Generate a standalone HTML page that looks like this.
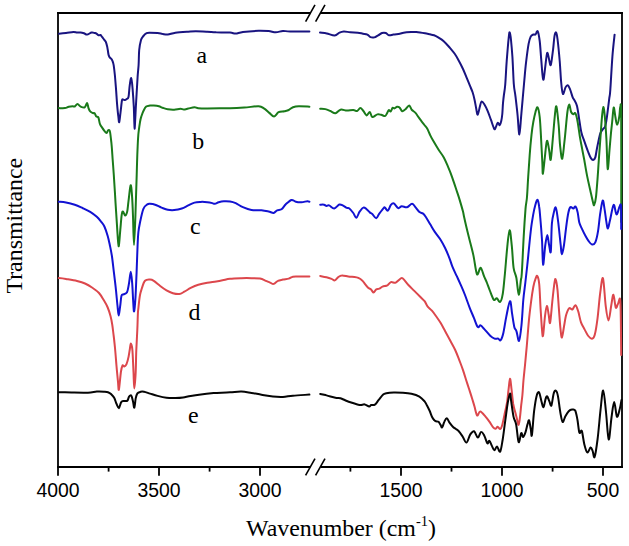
<!DOCTYPE html>
<html><head><meta charset="utf-8"><style>
html,body{margin:0;padding:0;background:#fff;}
body{width:629px;height:546px;overflow:hidden;}
svg{display:block;}
</style></head><body>
<svg width="629" height="546" viewBox="0 0 629 546">
<g stroke="#000" stroke-width="1.8" fill="none" stroke-linecap="butt">
<line x1="58" y1="12.1" x2="58" y2="467"/>
<line x1="622" y1="12.1" x2="622" y2="467.9"/>
<line x1="57.1" y1="13" x2="310.3" y2="13"/>
<line x1="320.5" y1="13" x2="622.9" y2="13"/>
<line x1="57.1" y1="467" x2="310.3" y2="467"/>
<line x1="320.5" y1="467" x2="622.9" y2="467"/>
<line x1="58" y1="467" x2="58" y2="475.8"/>
<line x1="159" y1="467" x2="159" y2="475.8"/>
<line x1="260" y1="467" x2="260" y2="475.8"/>
<line x1="401" y1="467" x2="401" y2="475.8"/>
<line x1="502" y1="467" x2="502" y2="475.8"/>
<line x1="603" y1="467" x2="603" y2="475.8"/>
<line x1="108.6" y1="467" x2="108.6" y2="471.6"/>
<line x1="209.6" y1="467" x2="209.6" y2="471.6"/>
<line x1="350.4" y1="467" x2="350.4" y2="471.6"/>
<line x1="451.5" y1="467" x2="451.5" y2="471.6"/>
<line x1="552.6" y1="467" x2="552.6" y2="471.6"/>
</g>
<g stroke="#000" stroke-width="1.6" fill="none">
<line x1="305.6" y1="21.6" x2="315" y2="4.8"/>
<line x1="315.6" y1="21.6" x2="325" y2="4.8"/>
<line x1="305.6" y1="475.4" x2="315" y2="458.6"/>
<line x1="315.6" y1="475.4" x2="325" y2="458.6"/>
</g>
<g fill="none" stroke-width="2.0" stroke-linejoin="round" stroke-linecap="round">
<path d="M59.0,33.7C60.2,33.6 63.6,33.3 66.0,33.0C68.4,32.7 71.5,32.0 73.3,31.9C75.1,31.8 75.8,32.4 77.0,32.5C78.2,32.6 79.4,32.4 80.6,32.5C81.8,32.6 82.9,32.9 84.0,33.2C85.1,33.6 85.7,34.7 87.0,34.6C88.3,34.5 90.3,32.8 91.6,32.5C92.9,32.2 94.1,32.9 95.0,33.1C95.9,33.3 96.2,33.5 96.8,33.9C97.4,34.3 98.1,35.1 98.7,35.3C99.3,35.5 99.9,34.7 100.5,35.0C101.1,35.3 101.6,36.4 102.3,37.2C103.0,38.1 103.9,39.2 104.5,40.1C105.1,41.0 105.6,41.3 106.0,42.3C106.4,43.3 106.8,45.0 107.1,46.3C107.4,47.6 107.5,48.5 107.8,50.0C108.0,51.5 108.3,53.9 108.6,55.1C108.9,56.3 109.2,56.6 109.7,57.3C110.2,58.0 111.2,58.6 111.8,59.5C112.3,60.4 112.7,61.4 113.0,62.4C113.3,63.4 113.4,63.4 113.7,65.4C114.0,67.4 114.4,70.6 114.8,74.5C115.2,78.4 115.6,83.8 116.0,88.8C116.4,93.8 116.7,99.7 117.1,104.3C117.5,108.9 117.9,113.2 118.3,116.2C118.7,119.2 118.8,122.7 119.2,122.1C119.6,121.5 120.0,116.2 120.5,112.6C121.0,109.0 121.5,102.9 121.9,100.7C122.3,98.5 122.6,99.6 123.1,99.5C123.6,99.4 124.3,100.2 124.9,100.1C125.5,100.0 126.1,99.4 126.7,98.9C127.3,98.4 128.0,99.2 128.5,97.1C129.0,95.0 129.2,89.6 129.6,86.4C130.0,83.2 130.7,77.7 131.2,78.1C131.7,78.5 132.2,84.0 132.6,88.8C133.0,93.6 133.5,100.8 133.8,106.7C134.1,112.7 134.2,121.1 134.4,124.5C134.6,127.9 134.5,130.9 134.8,126.9C135.1,122.9 135.7,109.0 136.2,100.7C136.7,92.4 137.2,82.9 137.6,76.9C138.0,71.0 138.3,69.5 138.6,65.0C138.9,60.5 138.8,54.2 139.2,50.0C139.6,45.8 140.4,42.2 141.0,40.0C141.6,37.8 142.1,37.6 143.0,36.5C143.9,35.4 145.4,33.8 146.6,33.2C147.8,32.6 148.2,32.7 150.0,32.7C151.8,32.7 155.6,32.9 157.6,33.1C159.6,33.3 160.3,33.5 162.0,33.8C163.7,34.0 165.6,34.8 167.8,34.6C170.0,34.4 172.0,33.2 175.4,32.7C178.8,32.2 184.8,31.9 188.2,31.7C191.6,31.4 192.6,31.2 195.8,31.2C199.0,31.2 203.8,31.5 207.2,31.7C210.6,31.9 212.4,32.1 216.2,32.3C220.0,32.4 226.8,32.4 230.0,32.6C233.2,32.8 233.5,33.7 235.7,33.6C237.8,33.5 239.1,32.4 242.9,31.9C246.7,31.4 254.3,30.9 258.6,30.8C262.9,30.7 265.7,30.9 268.6,31.1C271.5,31.4 273.4,32.3 275.8,32.3C278.2,32.3 280.5,31.0 282.9,30.9C285.3,30.8 285.7,31.5 290.1,31.6C294.5,31.7 306.2,31.4 309.4,31.4" stroke="#191480"/>
<path d="M320.0,32.6C321.1,32.8 324.4,33.0 326.8,33.5C329.2,34.0 332.6,35.6 334.7,35.5C336.8,35.4 338.0,33.4 339.5,32.7C341.0,32.0 342.0,31.6 343.8,31.5C345.6,31.4 347.9,32.1 350.2,32.3C352.5,32.5 355.7,32.5 357.8,32.7C359.9,32.9 361.3,33.4 362.9,33.7C364.5,34.0 366.1,34.0 367.4,34.6C368.7,35.2 369.3,36.7 370.5,37.2C371.7,37.7 373.1,37.7 374.4,37.4C375.7,37.1 376.9,36.0 378.2,35.3C379.5,34.6 380.7,33.4 382.0,33.0C383.3,32.6 384.6,32.6 385.8,33.0C387.0,33.4 387.7,35.0 389.0,35.3C390.3,35.6 391.6,34.9 393.4,34.6C395.2,34.3 398.1,34.0 399.8,33.7C401.5,33.4 401.7,33.0 403.6,32.7C405.5,32.4 409.1,32.2 411.2,32.1C413.3,32.0 414.8,32.0 416.3,32.1C417.8,32.2 418.6,32.3 420.0,32.5C421.4,32.7 423.3,33.0 425.0,33.3C426.7,33.6 428.5,34.0 430.0,34.3C431.5,34.6 432.7,34.8 434.1,35.3C435.5,35.8 436.6,36.4 438.2,37.4C439.8,38.4 441.9,39.6 443.7,41.2C445.5,42.8 447.4,44.9 449.2,47.0C451.0,49.1 453.1,51.5 454.7,53.8C456.3,56.1 457.4,58.2 458.8,60.7C460.2,63.2 461.7,66.2 463.0,69.0C464.3,71.8 465.3,74.5 466.4,77.2C467.5,79.9 468.8,82.9 469.8,85.4C470.8,87.9 471.8,89.9 472.6,92.3C473.4,94.7 474.0,97.2 474.6,100.0C475.2,102.8 475.8,106.5 476.3,109.0C476.8,111.5 477.1,115.1 477.7,114.7C478.3,114.3 479.3,108.7 479.9,106.5C480.5,104.3 480.8,101.9 481.5,101.5C482.2,101.1 483.3,102.7 484.3,104.3C485.3,105.9 486.5,108.3 487.6,110.9C488.7,113.5 489.9,117.0 490.9,119.7C491.9,122.5 492.9,125.9 493.6,127.4C494.3,129.0 494.3,129.8 495.0,129.0C495.7,128.2 496.9,123.5 497.7,122.9C498.5,122.3 499.1,125.6 499.7,125.2C500.3,124.8 500.9,122.7 501.3,120.8C501.7,118.9 502.0,116.9 502.3,114.0C502.6,111.1 502.7,106.4 503.0,103.2C503.3,100.0 503.5,98.0 503.9,95.0C504.3,92.0 504.7,90.6 505.2,85.0C505.7,79.4 506.1,69.0 506.7,61.2C507.3,53.4 508.2,42.7 508.7,37.9C509.2,33.1 509.3,32.0 509.7,32.4C510.1,32.8 510.6,36.0 511.0,40.0C511.4,44.0 511.9,49.3 512.4,56.6C512.9,63.9 513.3,77.3 513.8,84.0C514.3,90.7 514.9,91.3 515.5,96.6C516.1,101.8 517.0,109.2 517.6,115.5C518.2,121.8 518.8,134.8 519.4,134.5C520.0,134.2 520.6,121.8 521.4,113.4C522.2,105.0 523.2,92.4 524.0,84.0C524.8,75.6 525.2,69.6 526.0,62.9C526.8,56.2 527.8,48.3 528.6,43.9C529.4,39.5 529.9,38.2 530.7,36.6C531.5,35.0 532.6,34.9 533.4,34.5C534.2,34.1 534.8,35.0 535.5,34.5C536.2,34.0 537.0,30.2 537.7,31.3C538.4,32.4 539.1,36.4 539.7,41.0C540.3,45.6 540.7,53.6 541.2,59.2C541.7,64.8 542.1,71.4 542.5,74.8C542.9,78.2 543.2,80.6 543.6,79.5C544.0,78.4 544.6,71.9 545.1,68.1C545.6,64.3 546.1,59.1 546.5,56.6C546.9,54.1 547.1,52.3 547.6,53.0C548.1,53.7 548.9,59.0 549.4,61.0C549.9,63.0 550.3,66.7 550.9,64.7C551.5,62.8 552.5,54.1 553.1,49.3C553.7,44.5 554.0,38.9 554.5,36.1C555.0,33.3 555.5,32.0 556.0,32.5C556.5,33.0 556.9,34.2 557.5,39.0C558.1,43.8 559.1,53.9 559.7,61.0C560.3,68.1 560.6,76.0 561.1,81.5C561.6,87.0 562.2,93.0 562.9,94.0C563.6,95.0 564.7,88.9 565.5,87.4C566.3,85.9 567.0,85.0 567.7,85.2C568.4,85.5 569.0,86.8 569.9,88.9C570.8,91.0 572.1,95.9 572.8,97.7C573.5,99.5 573.6,98.6 574.3,100.0C575.0,101.4 576.2,102.9 577.0,106.1C577.8,109.3 578.5,114.9 579.2,119.3C579.9,123.7 580.5,128.8 581.4,132.5C582.2,136.2 583.2,138.0 584.3,141.2C585.4,144.4 586.9,148.7 588.0,151.5C589.1,154.3 590.0,156.7 590.9,158.1C591.8,159.5 592.4,160.1 593.1,160.0C593.8,159.9 594.6,159.8 595.3,157.4C596.0,155.0 596.6,149.6 597.5,145.6C598.4,141.6 599.4,136.0 600.4,133.2C601.4,130.4 602.5,130.0 603.3,128.8C604.1,127.6 604.7,128.0 605.3,125.9C605.9,123.8 606.4,120.9 607.0,116.4C607.6,111.9 608.7,103.2 609.2,98.8C609.8,94.4 609.8,97.0 610.3,90.0C610.8,83.0 611.7,65.8 612.4,56.6C613.1,47.4 614.2,38.4 614.6,34.7" stroke="#191480"/>
<path d="M58.8,108.1C59.8,108.1 63.3,108.3 64.9,108.1C66.6,107.9 67.4,107.0 68.7,106.7C70.0,106.4 71.6,106.3 72.6,106.3C73.6,106.3 74.0,106.9 74.8,106.5C75.6,106.1 76.5,104.1 77.5,104.1C78.5,104.1 79.6,106.2 80.8,106.7C82.0,107.2 83.7,108.0 84.7,107.4C85.8,106.8 86.5,102.9 87.1,103.0C87.7,103.1 88.0,106.7 88.5,108.1C89.0,109.5 89.5,110.6 90.2,111.4C90.9,112.2 92.2,112.8 92.9,113.1C93.6,113.4 94.0,112.5 94.6,113.1C95.1,113.6 95.6,115.7 96.2,116.4C96.8,117.1 97.8,116.2 98.4,117.5C99.0,118.8 99.3,122.5 100.0,124.2C100.7,125.9 101.6,126.8 102.3,127.9C103.0,129.0 103.7,130.0 104.4,130.8C105.1,131.7 106.0,133.1 106.6,133.0C107.2,132.9 107.6,130.4 108.2,130.2C108.8,130.0 109.5,129.6 110.0,131.9C110.5,134.2 111.0,139.3 111.5,144.0C112.0,148.7 112.3,154.8 112.7,160.0C113.1,165.2 113.3,167.9 113.8,175.0C114.3,182.1 115.0,193.7 115.5,202.4C116.0,211.1 116.6,219.8 117.1,227.1C117.6,234.4 118.1,245.8 118.6,246.3C119.1,246.8 119.8,235.2 120.3,229.9C120.8,224.7 121.2,217.9 121.7,214.8C122.2,211.7 122.4,211.3 123.0,211.4C123.6,211.5 124.4,215.4 125.1,215.5C125.8,215.6 126.5,214.4 127.1,212.0C127.7,209.6 127.9,205.5 128.5,201.1C129.1,196.7 130.0,186.2 130.6,185.3C131.2,184.4 131.6,190.4 132.0,195.6C132.4,200.8 132.7,208.0 133.0,216.2C133.3,224.4 133.6,245.0 134.0,245.0C134.4,245.0 135.0,227.9 135.4,216.2C135.8,204.5 136.3,186.0 136.7,175.0C137.0,164.0 137.2,156.7 137.5,150.0C137.8,143.3 137.9,139.8 138.3,135.0C138.7,130.2 139.6,124.7 140.1,121.5C140.6,118.3 140.9,117.8 141.5,116.0C142.1,114.2 142.6,112.6 143.4,111.0C144.2,109.4 145.1,107.5 146.2,106.6C147.3,105.7 148.7,105.8 150.0,105.6C151.3,105.4 152.3,105.4 153.8,105.5C155.3,105.6 157.4,105.8 158.9,106.2C160.4,106.6 161.2,107.3 162.7,107.8C164.2,108.3 165.9,109.0 167.8,109.3C169.7,109.6 172.1,109.8 174.2,109.7C176.3,109.6 178.9,108.8 180.5,108.8C182.1,108.8 182.4,109.5 183.7,109.5C185.0,109.5 186.4,109.0 188.2,108.6C190.0,108.2 192.8,107.3 194.5,107.2C196.2,107.1 196.2,108.0 198.3,108.2C200.4,108.4 202.0,108.4 207.3,108.4C212.6,108.4 223.8,108.3 230.0,108.2C236.2,108.1 239.5,107.9 244.3,107.6C249.1,107.3 255.3,106.0 258.6,106.2C261.9,106.4 262.5,107.5 264.3,108.6C266.1,109.7 267.7,111.6 269.3,112.9C270.9,114.2 272.6,116.6 274.1,116.5C275.7,116.4 276.9,113.1 278.6,112.2C280.3,111.3 282.7,111.6 284.4,111.2C286.1,110.8 287.3,110.7 288.7,110.0C290.1,109.3 291.3,107.8 293.0,107.2C294.7,106.6 296.0,106.3 298.7,106.2C301.4,106.1 307.6,106.6 309.4,106.7" stroke="#1a7a1a"/>
<path d="M320.2,108.7C321.1,108.8 323.6,108.7 325.3,109.1C327.0,109.5 328.7,110.3 330.4,111.0C332.1,111.7 333.7,113.5 335.4,113.3C337.1,113.1 338.6,110.2 340.5,109.7C342.4,109.2 344.8,110.5 346.9,110.6C349.0,110.6 351.6,109.9 353.3,110.0C355.0,110.1 355.9,111.3 357.1,111.0C358.3,110.7 359.2,108.1 360.3,108.1C361.4,108.1 362.3,109.8 363.4,111.0C364.4,112.2 365.5,115.2 366.6,115.4C367.7,115.6 368.9,111.6 369.8,111.9C370.8,112.2 371.0,116.6 372.3,117.0C373.6,117.4 375.9,114.8 377.4,114.4C378.9,114.0 379.9,114.5 381.2,114.8C382.5,115.1 384.1,116.3 385.0,116.1C385.9,115.9 386.3,114.5 386.9,113.5C387.5,112.5 388.2,110.4 388.8,110.1C389.4,109.8 390.1,111.8 390.7,111.4C391.3,111.0 392.0,108.3 392.6,107.8C393.2,107.3 393.8,108.6 394.5,108.4C395.2,108.2 396.2,106.9 397.1,106.8C398.0,106.7 398.8,106.9 399.6,107.6C400.5,108.3 401.2,110.9 402.2,111.2C403.2,111.5 404.2,110.2 405.4,109.3C406.6,108.3 408.1,105.4 409.2,105.5C410.2,105.6 410.6,108.5 411.7,109.7C412.8,110.9 414.3,111.6 415.5,112.9C416.7,114.2 417.6,115.9 418.7,117.4C419.8,118.9 420.9,120.5 421.9,121.8C422.8,123.1 423.5,123.8 424.4,125.0C425.3,126.2 426.4,127.2 427.3,128.8C428.2,130.4 429.1,132.8 430.0,134.7C430.9,136.6 431.4,137.7 432.8,140.1C434.2,142.5 436.5,146.4 438.3,149.3C440.1,152.2 442.1,154.4 443.8,157.5C445.5,160.6 447.0,164.4 448.4,167.6C449.8,170.8 450.8,173.4 452.0,176.8C453.2,180.2 454.4,184.0 455.7,187.8C456.9,191.6 458.3,195.4 459.5,199.4C460.7,203.4 462.2,208.4 463.0,211.6C463.8,214.8 463.4,214.1 464.4,218.3C465.3,222.5 467.2,230.5 468.7,236.6C470.2,242.7 471.9,248.6 473.3,254.9C474.7,261.2 475.8,272.1 477.0,274.2C478.2,276.3 479.4,267.4 480.6,267.8C481.8,268.2 483.2,274.4 484.3,276.9C485.4,279.4 486.1,280.6 487.0,283.0C487.9,285.4 488.9,288.2 490.0,291.0C491.1,293.8 492.7,298.6 493.8,299.8C494.9,301.0 495.8,297.9 496.8,298.3C497.9,298.7 499.1,302.6 500.1,302.0C501.1,301.4 501.9,298.9 502.6,294.7C503.4,290.5 503.8,284.9 504.6,277.0C505.4,269.1 506.4,255.4 507.2,247.6C508.0,239.8 508.8,230.5 509.6,230.2C510.4,229.9 511.1,239.5 511.8,245.8C512.5,252.1 512.8,262.4 513.6,267.8C514.4,273.2 515.5,273.5 516.4,278.0C517.2,282.5 518.0,294.4 518.7,294.7C519.5,295.0 520.4,283.6 520.9,280.0C521.4,276.4 521.3,280.5 521.8,273.3C522.3,266.1 523.1,247.3 523.7,236.6C524.3,225.9 525.0,215.6 525.5,209.2C526.0,202.8 526.4,203.4 526.9,198.0C527.4,192.6 527.7,184.1 528.2,176.9C528.7,169.7 529.2,161.9 529.7,154.9C530.2,147.9 530.9,140.3 531.5,134.8C532.1,129.3 532.6,125.8 533.3,122.0C534.0,118.2 534.8,114.4 535.5,111.9C536.2,109.5 536.9,106.5 537.6,107.3C538.3,108.1 539.1,111.7 539.7,117.0C540.3,122.3 540.7,131.4 541.1,138.9C541.5,146.4 542.0,156.2 542.3,162.0C542.6,167.8 542.5,174.5 542.9,173.8C543.3,173.1 544.2,162.8 544.8,158.0C545.3,153.2 545.8,147.6 546.2,144.8C546.6,142.0 546.9,140.1 547.4,141.1C547.9,142.1 548.7,147.5 549.2,150.6C549.8,153.7 550.1,161.5 550.7,159.6C551.3,157.7 552.1,146.5 552.8,138.9C553.5,131.3 554.4,119.4 555.0,114.0C555.6,108.6 555.9,104.8 556.5,106.7C557.1,108.6 558.1,119.0 558.7,125.5C559.3,132.0 559.5,140.0 560.1,145.6C560.7,151.2 561.5,159.5 562.2,158.8C562.9,158.1 563.6,149.0 564.5,141.2C565.4,133.4 566.6,118.1 567.4,112.0C568.2,105.9 568.7,104.6 569.3,104.6C569.9,104.6 570.4,110.4 571.1,112.0C571.8,113.6 572.6,114.0 573.3,114.2C574.0,114.4 574.8,112.1 575.5,113.4C576.2,114.7 577.0,118.3 577.7,122.2C578.4,126.1 579.2,132.5 579.9,136.9C580.6,141.3 581.4,144.8 582.1,148.6C582.8,152.4 583.4,155.4 584.3,160.0C585.1,164.6 586.2,171.5 587.2,176.4C588.2,181.3 589.1,185.1 590.1,189.5C591.1,193.9 592.4,200.1 593.1,202.7C593.8,205.3 593.7,205.9 594.2,204.9C594.7,203.9 595.5,201.2 596.0,196.9C596.5,192.6 597.0,185.7 597.5,179.3C598.0,173.0 598.4,165.6 598.9,158.8C599.4,152.0 599.9,145.1 600.4,138.3C600.9,131.5 601.4,123.0 601.9,117.8C602.4,112.6 602.8,107.2 603.3,107.0C603.8,106.8 604.3,111.1 604.8,116.4C605.3,121.7 605.9,130.2 606.4,139.0C606.9,147.8 607.2,167.2 607.7,169.0C608.2,170.8 609.0,155.7 609.5,150.0C610.0,144.3 610.4,139.6 610.8,135.0C611.2,130.4 611.6,127.1 612.1,122.5C612.6,117.9 613.2,108.5 613.7,107.6C614.2,106.7 614.9,114.2 615.4,117.0C615.9,119.8 616.4,124.7 617.0,124.7C617.6,124.7 618.7,120.1 619.2,117.0C619.8,113.9 620.0,106.0 620.3,106.0C620.6,106.0 621.1,97.7 621.2,117.0C621.4,136.3 621.2,204.5 621.2,222.0" stroke="#1a7a1a"/>
<path d="M58.8,201.8C60.0,201.9 63.3,202.0 66.0,202.5C68.7,203.0 72.0,203.8 74.8,204.7C77.5,205.6 79.9,206.8 82.5,208.0C85.1,209.2 87.8,210.4 90.2,211.9C92.6,213.4 95.0,215.2 96.8,216.8C98.6,218.5 99.9,220.2 101.2,221.8C102.5,223.4 103.3,224.1 104.4,226.5C105.5,228.9 106.8,232.9 107.7,236.0C108.6,239.1 109.1,241.7 109.8,245.0C110.5,248.3 111.2,251.4 111.9,256.0C112.6,260.6 113.2,266.7 113.9,272.4C114.6,278.1 115.4,284.6 116.0,290.3C116.6,296.0 117.1,302.5 117.6,306.7C118.0,310.9 118.3,315.6 118.7,315.6C119.1,315.6 119.6,310.0 120.1,306.7C120.6,303.4 120.9,297.9 121.5,295.8C122.1,293.8 122.6,295.0 123.5,294.4C124.4,293.8 126.1,294.1 127.0,292.3C127.9,290.5 128.4,286.8 129.0,283.4C129.6,280.0 130.3,271.7 130.8,271.7C131.3,271.7 131.8,278.7 132.2,283.4C132.6,288.1 132.8,295.2 133.1,299.9C133.4,304.6 133.7,312.0 134.1,311.5C134.5,311.0 135.1,303.6 135.5,297.1C135.9,290.6 136.2,281.1 136.6,272.4C136.9,263.7 137.3,251.7 137.6,245.0C137.9,238.3 138.0,235.8 138.4,232.0C138.8,228.2 139.3,225.9 140.1,222.0C140.9,218.1 142.2,211.7 143.4,208.8C144.6,205.9 146.2,205.2 147.3,204.4C148.4,203.6 148.7,203.8 150.0,203.8C151.3,203.9 153.2,204.1 155.1,204.7C157.0,205.3 159.4,206.8 161.5,207.6C163.6,208.4 165.7,209.4 167.8,209.8C169.9,210.2 171.9,210.3 174.2,210.1C176.5,209.9 179.5,209.3 181.8,208.5C184.1,207.7 186.1,206.4 188.2,205.4C190.3,204.4 192.4,203.2 194.5,202.6C196.6,202.0 198.8,202.0 200.9,201.9C203.0,201.8 205.4,202.0 207.3,202.2C209.2,202.4 211.0,202.8 212.3,203.1C213.6,203.4 213.8,204.0 214.9,203.8C216.0,203.7 217.2,202.6 218.7,202.2C220.2,201.8 221.9,201.4 223.8,201.3C225.7,201.2 228.0,201.2 230.0,201.5C232.0,201.8 233.5,202.2 235.7,203.2C237.8,204.1 240.3,206.1 242.9,207.2C245.5,208.3 248.4,209.5 251.5,210.0C254.6,210.5 258.6,210.1 261.5,210.3C264.4,210.6 266.6,211.1 268.6,211.5C270.6,211.9 272.2,213.1 273.6,212.9C275.0,212.7 275.9,210.9 277.2,210.3C278.5,209.7 280.1,210.3 281.5,209.3C282.9,208.3 284.1,205.9 285.8,204.3C287.5,202.8 289.8,200.4 291.5,200.0C293.2,199.6 294.1,201.3 295.8,201.7C297.5,202.1 299.6,202.3 301.5,202.2C303.4,202.1 306.0,201.3 307.3,201.2C308.6,201.1 309.0,201.6 309.4,201.7" stroke="#1212d2"/>
<path d="M320.2,204.7C320.8,204.7 322.9,204.5 324.0,204.7C325.1,204.9 325.6,205.9 326.5,206.0C327.4,206.1 327.8,205.0 329.1,205.4C330.4,205.8 332.5,208.7 334.2,208.5C335.9,208.3 337.8,205.0 339.3,204.5C340.8,204.0 341.8,205.0 343.1,205.6C344.4,206.2 345.8,207.4 346.9,207.9C347.9,208.4 348.3,207.7 349.4,208.5C350.5,209.3 352.1,211.4 353.3,213.0C354.5,214.6 355.3,218.0 356.4,217.8C357.4,217.6 358.4,213.4 359.6,211.7C360.8,210.0 362.2,208.0 363.4,207.6C364.6,207.2 365.5,208.4 366.6,209.2C367.7,210.0 368.9,211.6 369.8,212.4C370.8,213.2 371.2,213.0 372.3,214.0C373.4,215.0 375.0,218.4 376.2,218.3C377.4,218.2 378.0,215.3 379.3,213.6C380.6,211.9 382.9,208.9 383.8,207.9C384.8,206.9 384.3,207.2 385.0,207.7C385.7,208.1 386.9,211.1 387.9,210.6C388.9,210.1 389.9,206.0 390.9,204.8C391.9,203.6 392.6,202.8 393.8,203.3C395.0,203.9 396.9,207.6 398.2,208.1C399.5,208.6 400.3,206.3 401.8,206.2C403.3,206.1 405.3,207.7 407.0,207.3C408.7,206.9 410.6,203.7 412.1,203.8C413.6,203.9 414.6,206.3 415.8,207.7C417.0,209.1 418.2,211.1 419.4,212.1C420.6,213.1 422.0,212.8 423.1,213.6C424.2,214.4 424.8,215.4 426.0,217.2C427.2,219.0 428.9,222.1 430.4,224.6C431.9,227.1 433.1,229.3 434.8,231.9C436.5,234.5 439.0,237.3 440.7,240.0C442.4,242.7 443.6,244.9 445.1,248.0C446.6,251.1 448.3,255.2 449.5,258.3C450.7,261.4 451.2,263.7 452.4,266.7C453.6,269.7 455.3,273.0 456.8,276.2C458.3,279.4 459.8,282.7 461.2,285.8C462.6,288.9 463.6,291.3 465.0,295.0C466.4,298.7 468.2,303.9 469.7,307.8C471.2,311.7 472.7,314.9 474.0,318.1C475.3,321.3 476.6,325.7 477.7,326.9C478.8,328.1 479.5,325.0 480.6,325.4C481.7,325.8 482.7,327.4 484.3,329.1C485.9,330.8 488.5,334.1 490.2,335.7C491.9,337.3 493.3,338.1 494.6,338.6C495.9,339.1 497.2,338.4 498.2,338.6C499.2,338.9 499.8,341.1 500.7,340.1C501.6,339.1 502.5,336.6 503.4,332.7C504.3,328.8 505.2,321.9 506.3,316.6C507.4,311.4 509.0,301.7 510.0,301.2C511.0,300.7 511.4,309.4 512.1,313.7C512.8,318.0 513.6,324.0 514.3,326.9C515.0,329.8 515.7,329.0 516.5,331.3C517.3,333.6 518.2,341.9 519.0,340.8C519.8,339.8 520.8,331.8 521.5,325.0C522.2,318.2 522.7,307.0 523.3,300.0C523.9,293.0 524.6,288.8 525.3,283.0C526.0,277.2 526.6,271.3 527.3,265.0C528.0,258.7 528.7,251.0 529.3,245.0C529.9,239.0 530.4,234.1 531.0,229.0C531.6,223.9 532.5,218.7 533.2,214.7C533.9,210.7 534.7,207.3 535.4,204.8C536.1,202.3 537.0,199.4 537.6,199.8C538.2,200.2 538.8,204.0 539.2,207.0C539.7,210.0 539.8,212.5 540.3,218.0C540.8,223.5 541.5,232.2 542.0,240.0C542.5,247.8 542.6,263.9 543.1,264.7C543.6,265.5 544.6,249.9 545.3,245.0C546.0,240.1 546.7,235.0 547.3,235.0C547.9,235.0 548.5,242.2 549.1,245.0C549.7,247.8 550.3,255.1 550.8,251.5C551.3,247.9 551.3,230.2 551.9,223.5C552.5,216.8 553.5,214.1 554.1,211.4C554.7,208.7 555.2,206.8 555.7,207.5C556.2,208.2 556.9,212.2 557.4,215.8C557.9,219.4 558.5,224.1 559.0,229.0C559.5,233.9 560.2,240.8 560.7,245.0C561.2,249.2 561.2,254.2 561.8,254.2C562.3,254.2 563.3,249.6 564.0,245.0C564.7,240.4 565.5,232.2 566.2,226.8C566.9,221.4 567.7,215.8 568.4,212.5C569.1,209.2 569.7,207.7 570.5,207.0C571.3,206.3 572.5,208.7 573.3,208.6C574.1,208.5 574.8,205.8 575.5,206.5C576.2,207.2 577.1,209.9 577.7,212.6C578.3,215.3 578.6,219.8 579.3,222.5C580.0,225.2 581.1,226.9 582.1,229.1C583.1,231.3 584.3,233.7 585.4,235.7C586.5,237.7 587.6,239.7 588.7,241.2C589.8,242.7 590.9,244.3 592.0,244.5C593.1,244.7 594.3,244.5 595.3,242.3C596.3,240.1 597.2,236.1 598.0,231.3C598.8,226.5 599.4,218.8 600.2,213.7C601.0,208.6 602.0,201.2 602.7,200.5C603.4,199.8 604.0,205.8 604.6,209.3C605.2,212.8 605.8,218.2 606.3,221.4C606.8,224.6 607.3,228.7 607.9,228.5C608.5,228.3 609.0,224.2 610.0,220.3C611.0,216.4 612.5,205.9 613.6,204.9C614.7,203.9 615.5,214.0 616.5,214.4C617.5,214.8 618.6,208.5 619.4,207.1C620.1,205.7 620.7,202.3 621.0,206.0C621.3,209.7 621.2,225.2 621.2,229.0" stroke="#1212d2"/>
<path d="M58.8,278.1C60.0,278.2 63.0,278.5 66.0,279.0C69.0,279.5 73.8,280.2 77.0,281.0C80.2,281.8 82.5,282.4 85.0,283.5C87.5,284.6 89.7,285.9 92.0,287.5C94.3,289.1 97.0,290.8 99.0,293.0C101.0,295.2 102.5,298.1 104.0,300.5C105.5,302.9 106.6,304.9 107.7,307.5C108.8,310.1 109.7,313.1 110.5,316.0C111.3,318.9 111.8,321.7 112.3,325.0C112.8,328.3 113.2,332.2 113.7,336.0C114.2,339.8 114.5,343.0 115.0,348.0C115.5,353.0 116.0,360.3 116.5,366.0C117.0,371.7 117.6,378.1 118.0,382.0C118.4,385.9 118.4,391.3 118.9,389.6C119.4,387.9 120.3,376.0 120.9,372.0C121.5,368.0 122.0,366.3 122.5,365.4C123.0,364.5 123.5,366.7 124.2,366.5C124.9,366.3 125.7,365.9 126.4,364.3C127.1,362.7 128.1,359.0 128.6,356.6C129.1,354.2 129.3,352.2 129.7,350.0C130.1,347.8 130.4,343.4 130.8,343.4C131.2,343.4 132.0,345.2 132.4,350.0C132.8,354.8 133.2,365.6 133.5,372.0C133.8,378.4 133.9,388.5 134.3,388.5C134.7,388.5 135.4,378.4 135.7,372.0C136.0,365.6 136.0,357.0 136.3,350.0C136.6,343.0 137.0,336.1 137.3,330.0C137.6,323.9 137.7,317.0 137.9,313.2C138.1,309.4 138.2,310.1 138.5,307.1C138.8,304.1 139.4,298.1 140.0,295.0C140.6,291.9 141.0,290.9 141.8,288.5C142.6,286.1 143.6,282.3 145.0,280.8C146.4,279.3 148.5,279.6 150.0,279.6C151.5,279.6 152.1,279.8 153.8,280.9C155.5,282.0 158.1,284.4 160.2,286.0C162.3,287.6 164.4,289.2 166.5,290.4C168.6,291.6 170.8,292.6 172.9,293.2C175.0,293.8 177.4,294.2 179.3,294.0C181.2,293.8 182.5,292.7 184.4,291.7C186.3,290.7 188.4,289.1 190.7,287.9C193.0,286.7 195.5,285.5 198.3,284.7C201.1,283.9 204.3,283.3 207.3,282.8C210.3,282.3 213.7,281.9 216.2,281.5C218.7,281.1 220.2,280.8 222.5,280.3C224.8,279.9 226.8,279.2 230.0,278.8C233.2,278.4 237.8,278.3 241.4,278.2C245.0,278.1 248.4,278.1 251.5,278.2C254.6,278.3 257.6,278.2 260.0,278.6C262.4,279.0 264.1,280.1 265.8,280.8C267.5,281.5 268.8,282.1 270.1,282.6C271.4,283.1 272.3,284.2 273.6,283.9C274.9,283.6 276.3,281.5 277.9,280.8C279.4,280.1 281.1,280.0 282.9,279.6C284.7,279.2 287.0,279.1 288.7,278.6C290.4,278.1 291.2,277.1 292.9,276.7C294.6,276.3 295.9,276.5 298.7,276.5C301.4,276.5 307.6,276.5 309.4,276.5" stroke="#dc474c"/>
<path d="M320.2,276.0C321.2,276.2 324.6,276.8 326.5,277.3C328.4,277.8 330.2,278.4 331.6,278.9C333.0,279.4 333.7,280.7 334.8,280.4C335.9,280.1 336.8,278.1 338.0,277.3C339.2,276.5 340.1,275.5 341.8,275.4C343.5,275.2 346.1,276.1 348.2,276.4C350.3,276.7 352.8,276.8 354.5,277.0C356.2,277.2 357.0,277.3 358.3,277.9C359.6,278.5 361.1,279.4 362.2,280.4C363.3,281.3 363.8,282.4 364.7,283.6C365.6,284.8 366.8,286.4 367.9,287.4C369.0,288.4 370.2,288.8 371.1,289.6C372.1,290.5 372.8,292.5 373.6,292.5C374.5,292.5 375.2,290.0 376.2,289.4C377.1,288.8 378.2,289.2 379.3,288.7C380.4,288.2 381.3,287.1 382.5,286.6C383.7,286.1 385.4,286.1 386.3,285.8C387.2,285.5 387.1,285.6 387.9,285.0C388.7,284.4 389.7,282.5 390.9,282.1C392.1,281.7 394.1,283.1 395.3,282.8C396.5,282.6 397.1,281.4 398.2,280.6C399.3,279.8 400.7,278.1 401.8,278.1C402.9,278.1 403.7,279.5 404.8,280.6C405.9,281.8 406.8,283.3 408.4,285.0C410.0,286.7 412.3,288.9 414.3,290.9C416.3,292.9 418.5,295.1 420.2,296.8C421.9,298.5 423.4,299.6 424.6,301.2C425.8,302.8 426.3,304.7 427.5,306.3C428.7,307.9 430.4,309.0 431.9,310.7C433.4,312.4 434.8,314.4 436.3,316.5C437.8,318.6 439.2,320.6 440.7,323.1C442.2,325.6 443.7,328.6 445.3,331.5C446.9,334.4 448.6,337.4 450.2,340.5C451.8,343.6 453.7,346.7 455.2,350.0C456.7,353.3 458.0,356.8 459.3,360.1C460.6,363.5 461.9,366.8 463.0,370.1C464.1,373.5 465.2,377.1 466.2,380.2C467.2,383.3 467.9,385.4 468.9,388.5C469.9,391.6 471.2,395.5 472.1,398.5C473.0,401.5 473.7,403.7 474.5,406.5C475.3,409.3 476.2,414.6 477.1,415.5C478.1,416.4 478.8,411.4 480.2,411.6C481.6,411.8 484.0,414.9 485.5,416.6C487.0,418.3 488.1,419.9 489.4,421.7C490.7,423.5 492.1,426.2 493.2,427.4C494.2,428.6 495.0,428.8 495.7,428.7C496.4,428.6 496.9,426.7 497.6,426.8C498.4,426.9 499.4,429.3 500.2,429.1C500.9,428.9 501.4,428.0 502.1,425.5C502.8,423.0 503.8,418.1 504.6,414.1C505.5,410.1 506.6,405.4 507.2,401.4C507.8,397.4 508.0,393.8 508.5,390.0C509.0,386.2 509.5,379.0 510.0,378.8C510.5,378.6 511.0,384.8 511.5,389.0C512.0,393.2 512.6,400.0 513.2,404.0C513.9,408.0 514.7,410.1 515.4,412.8C516.1,415.5 516.8,418.4 517.3,420.4C517.8,422.4 518.2,425.3 518.6,424.9C519.0,424.5 519.5,421.2 519.9,417.9C520.3,414.6 520.8,409.0 521.2,405.2C521.6,401.4 522.0,399.2 522.4,395.0C522.8,390.8 523.0,385.5 523.5,380.0C524.0,374.5 524.8,367.7 525.3,362.0C525.8,356.3 526.2,352.8 526.8,345.9C527.4,339.0 528.2,328.0 528.9,320.6C529.6,313.2 530.4,307.2 531.1,301.6C531.8,296.0 532.6,290.8 533.3,287.0C534.0,283.2 534.8,280.7 535.5,278.9C536.2,277.1 536.7,275.1 537.3,276.0C537.9,276.9 538.7,278.5 539.2,284.0C539.8,289.5 540.1,301.1 540.6,308.9C541.1,316.7 541.7,326.5 542.1,330.9C542.5,335.3 542.6,337.8 543.1,335.3C543.6,332.9 544.4,321.1 545.0,316.2C545.6,311.3 546.3,306.2 546.9,306.0C547.5,305.8 548.2,312.0 548.7,314.8C549.2,317.6 549.5,325.0 550.1,322.8C550.7,320.6 551.6,308.3 552.3,301.6C553.0,294.9 553.9,286.3 554.5,282.6C555.1,278.9 555.2,278.4 555.7,279.6C556.2,280.8 557.0,285.0 557.5,289.9C558.0,294.8 558.4,302.5 558.9,308.9C559.4,315.2 559.9,323.2 560.4,328.0C560.9,332.8 561.3,337.8 561.9,337.5C562.5,337.2 563.3,330.3 564.0,326.5C564.7,322.7 565.3,317.9 566.2,314.8C567.1,311.8 568.2,309.1 569.2,308.2C570.2,307.3 571.3,310.0 572.3,309.5C573.3,309.0 574.4,305.0 575.4,305.3C576.4,305.6 577.3,308.5 578.2,311.3C579.1,314.1 579.9,319.2 581.0,322.3C582.1,325.4 583.5,327.3 584.7,329.6C585.9,331.9 587.1,334.5 588.3,336.0C589.5,337.5 590.9,338.9 592.0,338.8C593.1,338.7 593.8,338.5 594.7,335.1C595.6,331.7 596.6,325.6 597.5,318.6C598.4,311.6 599.3,299.7 600.2,293.0C601.1,286.3 602.1,276.2 603.0,278.3C603.9,280.4 604.8,298.8 605.7,305.8C606.6,312.8 607.6,320.4 608.5,320.4C609.4,320.4 610.4,310.1 611.2,305.8C612.0,301.5 612.6,294.5 613.4,294.8C614.2,295.1 615.0,306.1 615.8,307.6C616.6,309.1 617.2,304.8 618.0,303.9C618.8,303.0 619.9,293.6 620.4,302.1C620.9,310.6 621.1,346.2 621.2,355.0" stroke="#dc474c"/>
<path d="M58.8,392.2C60.9,392.2 66.6,392.4 71.5,392.5C76.4,392.6 83.8,392.8 88.0,392.7C92.2,392.6 94.0,391.8 96.8,391.6C99.5,391.4 102.6,391.6 104.5,391.7C106.4,391.8 106.9,391.8 108.0,392.2C109.1,392.6 110.0,393.0 111.0,394.0C112.0,395.0 113.4,396.4 114.3,398.0C115.2,399.6 115.7,402.1 116.5,403.8C117.3,405.5 118.2,408.4 118.9,408.2C119.6,408.0 120.3,403.9 120.9,402.7C121.5,401.5 121.8,401.4 122.5,401.1C123.2,400.8 124.5,401.2 125.3,401.1C126.1,401.0 126.9,401.2 127.5,400.5C128.1,399.8 128.5,397.5 129.1,396.7C129.7,395.9 130.7,394.8 131.3,395.6C132.0,396.4 132.5,399.6 133.0,401.6C133.5,403.6 133.9,408.2 134.3,407.7C134.8,407.2 135.2,400.8 135.7,398.4C136.2,396.0 136.6,394.5 137.4,393.4C138.2,392.3 139.6,392.1 140.7,391.8C141.8,391.5 142.4,391.5 144.0,391.8C145.6,392.1 147.7,392.9 150.0,393.6C152.3,394.3 154.8,395.2 157.6,395.9C160.3,396.6 163.5,397.4 166.5,397.8C169.5,398.2 172.6,398.1 175.4,398.1C178.2,398.1 180.6,398.0 183.1,397.6C185.6,397.2 187.7,396.4 190.7,395.9C193.7,395.4 197.1,394.9 200.9,394.4C204.7,393.9 208.8,393.5 213.6,393.1C218.4,392.8 225.4,392.6 230.0,392.3C234.6,392.0 237.8,391.4 241.4,391.5C245.0,391.6 248.2,392.4 251.5,392.9C254.8,393.4 257.9,394.1 261.5,394.7C265.1,395.3 269.3,396.1 272.9,396.5C276.5,396.9 279.6,397.0 282.9,396.9C286.2,396.8 288.5,396.1 292.9,395.7C297.3,395.3 306.6,394.8 309.4,394.6" stroke="#050505"/>
<path d="M320.2,393.9C321.2,394.1 324.0,394.8 326.5,395.4C329.0,396.0 333.1,397.2 335.4,397.7C337.7,398.2 338.8,397.7 340.5,398.2C342.2,398.7 343.7,399.7 345.6,400.5C347.5,401.3 349.7,402.1 352.0,402.8C354.3,403.6 357.5,404.7 359.6,405.0C361.7,405.3 363.1,404.1 364.7,404.4C366.3,404.7 368.1,406.5 369.2,406.6C370.3,406.7 370.2,405.3 371.1,405.0C372.1,404.7 373.6,405.5 374.9,404.6C376.2,403.8 377.3,401.6 378.7,399.9C380.1,398.2 381.9,395.7 383.2,394.6C384.5,393.5 384.5,393.7 386.3,393.3C388.1,392.9 391.1,392.6 393.8,392.5C396.5,392.4 399.7,392.6 402.6,392.8C405.5,393.0 408.6,393.2 411.4,393.8C414.2,394.4 417.2,395.3 419.4,396.6C421.6,397.9 423.3,399.9 424.6,401.4C425.9,402.9 426.2,404.0 427.0,405.5C427.8,407.0 428.6,408.6 429.5,410.5C430.4,412.4 431.3,415.4 432.1,417.0C432.9,418.6 433.9,419.7 434.5,420.4C435.1,421.1 435.3,421.1 436.0,421.3C436.7,421.5 437.8,421.2 438.5,421.8C439.2,422.4 439.8,423.7 440.4,424.6C441.0,425.6 441.5,427.9 442.1,427.5C442.8,427.1 443.5,423.4 444.3,421.9C445.1,420.3 445.9,418.1 446.8,418.2C447.7,418.3 448.4,421.1 449.5,422.6C450.6,424.1 452.1,426.0 453.1,427.0C454.1,428.0 454.6,428.1 455.5,428.8C456.4,429.5 457.6,430.0 458.8,431.3C460.0,432.6 461.3,434.6 462.6,436.5C463.9,438.4 465.2,443.0 466.5,442.6C467.8,442.2 469.0,436.3 470.3,434.4C471.6,432.5 472.8,430.8 474.1,431.3C475.4,431.8 476.7,437.5 477.9,437.6C479.1,437.7 480.0,432.2 481.1,431.9C482.2,431.6 483.2,433.8 484.3,435.7C485.4,437.6 486.5,442.4 487.4,443.3C488.2,444.2 488.6,440.4 489.4,440.8C490.1,441.2 491.1,444.3 491.9,445.9C492.7,447.5 493.5,450.2 494.4,450.3C495.2,450.4 496.0,446.3 497.0,446.5C498.0,446.7 499.2,452.8 500.2,451.6C501.1,450.4 501.8,444.7 502.7,439.5C503.6,434.3 504.4,426.5 505.3,420.4C506.2,414.2 507.0,407.1 507.8,402.6C508.6,398.1 509.4,393.7 510.0,393.5C510.6,393.3 510.6,397.5 511.2,401.4C511.8,405.2 512.7,412.8 513.5,416.6C514.3,420.4 515.2,420.1 516.1,424.3C517.0,428.6 517.8,440.6 518.6,442.1C519.5,443.6 520.5,434.1 521.2,433.2C522.0,432.3 522.4,437.2 523.1,437.0C523.8,436.8 524.9,434.0 525.6,431.9C526.3,429.8 526.9,426.3 527.5,424.4C528.1,422.5 528.6,419.5 529.1,420.3C529.6,421.1 530.3,426.9 530.8,429.4C531.3,431.9 531.3,438.1 531.9,435.1C532.5,432.1 533.3,417.6 534.1,411.2C534.9,404.8 535.7,399.5 536.5,396.4C537.3,393.2 538.2,391.5 539.0,392.3C539.8,393.1 540.8,398.9 541.5,401.4C542.2,403.9 542.8,407.5 543.5,407.1C544.2,406.7 545.0,400.7 545.6,398.9C546.2,397.1 546.6,396.0 547.2,396.4C547.8,396.8 548.7,399.9 549.4,401.4C550.1,402.9 550.7,406.9 551.4,405.5C552.1,404.1 553.0,395.6 553.8,393.1C554.6,390.6 555.3,390.1 556.0,390.7C556.7,391.2 557.3,392.7 558.0,396.4C558.7,400.1 559.6,408.6 560.4,412.9C561.2,417.2 561.8,421.4 562.6,422.0C563.4,422.6 564.4,418.0 565.4,416.2C566.4,414.4 567.6,412.3 568.7,411.2C569.8,410.1 570.9,409.7 572.0,409.6C573.1,409.5 574.3,408.8 575.2,410.4C576.1,412.0 576.7,415.8 577.4,419.5C578.1,423.2 578.7,430.8 579.4,432.7C580.1,434.6 581.0,429.1 581.8,431.0C582.6,432.9 583.4,440.6 584.3,444.2C585.2,447.8 586.2,451.8 587.3,452.4C588.3,452.9 589.7,447.8 590.6,447.5C591.5,447.2 591.9,449.2 592.6,450.8C593.3,452.4 593.8,459.0 594.6,457.0C595.4,455.0 596.6,446.8 597.6,439.0C598.6,431.2 599.6,418.3 600.5,410.2C601.4,402.1 602.3,390.2 603.2,390.5C604.1,390.8 605.1,403.8 606.0,412.0C606.9,420.2 607.8,438.6 608.7,439.5C609.6,440.4 610.6,423.8 611.5,417.5C612.4,411.2 613.3,402.1 614.2,402.0C615.1,401.9 616.0,415.4 616.9,416.6C617.8,417.8 618.9,412.1 619.7,409.3C620.5,406.5 621.2,401.6 621.5,400.0" stroke="#050505"/>
</g>
<g font-family="'Liberation Sans', sans-serif" font-size="19.4" fill="#000" text-anchor="middle">
<text x="58" y="496.7">4000</text>
<text x="159" y="496.7">3500</text>
<text x="260" y="496.7">3000</text>
<text x="401" y="496.7">1500</text>
<text x="502" y="496.7">1000</text>
<text x="603" y="496.7">500</text>
</g>
<g font-family="'Liberation Serif', serif" font-size="23.9" fill="#000">
<text x="246" y="536">Wavenumber (cm<tspan font-size="14.5" dy="-9.6">-1</tspan><tspan dy="9.6">)</tspan></text>
<text transform="translate(21.6,225.7) rotate(-90)" text-anchor="middle">Transmittance</text>
<text x="196.5" y="62.5">a</text>
<text x="192.2" y="148.5">b</text>
<text x="190" y="234">c</text>
<text x="188.5" y="319.7">d</text>
<text x="188" y="422.5">e</text>
</g>
</svg>
</body></html>
